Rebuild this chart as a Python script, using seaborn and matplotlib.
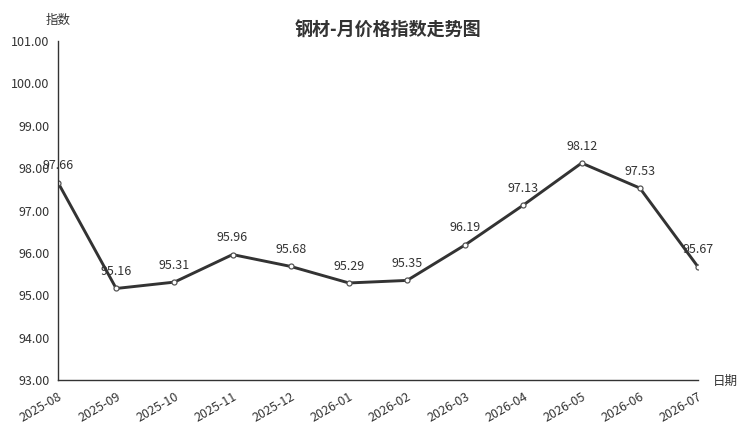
import matplotlib
matplotlib.use("Agg")
import matplotlib.pyplot as plt
import seaborn as sns
import pandas as pd

months = ["2025-08", "2025-09", "2025-10", "2025-11", "2025-12", "2026-01",
          "2026-02", "2026-03", "2026-04", "2026-05", "2026-06", "2026-07"]
index_values = [97.66, 95.16, 95.31, 95.96, 95.68, 95.29, 95.35, 96.19, 97.13, 98.12, 97.53, 95.67]
y_ticks = [93, 94, 95, 96, 97, 98, 99, 100, 101]

sns.set_style("white")
plt.rcParams['font.family'] = ['Noto Sans CJK SC', 'DejaVu Sans']
plt.rcParams['axes.unicode_minus'] = False

df = pd.DataFrame({"pos": range(len(months)), "month": months, "value": index_values})

fig = plt.figure(figsize=(7.5, 4.3), dpi=100)
ax = fig.add_axes([58/750, 1-380/430, (698-58)/750, (380-41)/430])

txt = "#333333"
sns.lineplot(data=df, x="pos", y="value", ax=ax, color="#333333", linewidth=2.1,
             marker="o", markersize=3.6, markerfacecolor="white",
             markeredgecolor="#555555", markeredgewidth=0.9)

for x, y in zip(df["pos"], df["value"]):
    ax.annotate(f"{y:.2f}", (x, y), xytext=(0, 7.5), textcoords="offset points",
                ha="center", va="bottom", fontsize=9, color=txt)

ax.set_xlim(0, len(months) - 1)
ax.set_ylim(93, 101)
ax.set_yticks(y_ticks)
ax.set_yticklabels([f"{v:.2f}" for v in y_ticks])
ax.set_xticks(range(len(months)))
ax.set_xticklabels(months, rotation=30, ha="right", rotation_mode="anchor")
ax.tick_params(axis="both", labelsize=9, labelcolor=txt, color="#333333",
               length=4, width=1, direction="out")
ax.tick_params(axis="x", pad=3)
ax.tick_params(axis="y", pad=2)
for s in ["top", "right"]:
    ax.spines[s].set_visible(False)
for s in ["left", "bottom"]:
    ax.spines[s].set_color("#333333")
    ax.spines[s].set_linewidth(1)
ax.set_xlabel("")
ax.set_ylabel("")

fig.text(58/750, 1-20/430, "指数", ha="center", va="center", fontsize=9, color=txt)
fig.text(725/750, 1-381/430, "日期", ha="center", va="center", fontsize=9, color=txt)
fig.text(388/750, 1-30/430, "钢材-月价格指数走势图", ha="center", va="center",
         fontsize=13, fontweight="bold", color=txt)

fig.savefig("out.png", dpi=100)
